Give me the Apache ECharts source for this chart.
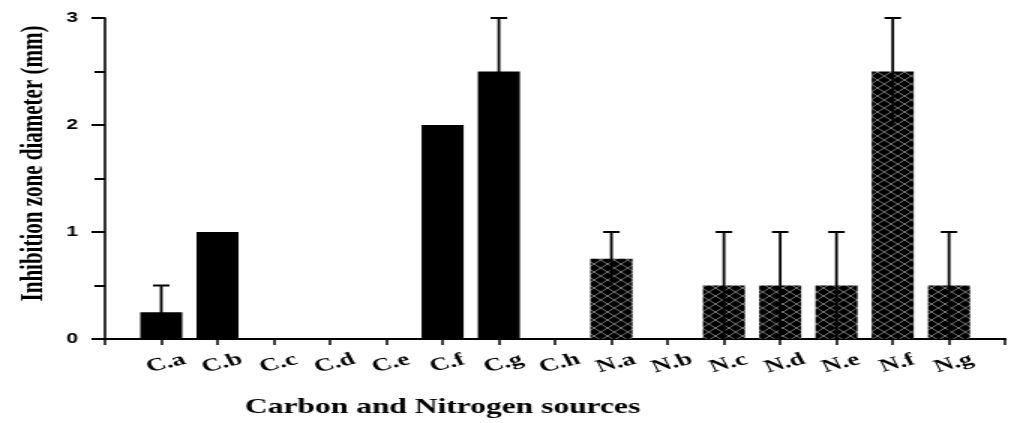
<!DOCTYPE html>
<html>
<head>
<meta charset="utf-8">
<script src="https://cdn.jsdelivr.net/npm/echarts@6/dist/echarts.min.js"></script>
<style>
  html, body { margin: 0; padding: 0; background: #fff; overflow: hidden; }
  /* the figure is laid out narrow and stretched horizontally */
  #chart { width: 673.33px; height: 423px; transform: scaleX(1.5); transform-origin: 0 0; }
</style>
</head>
<body>
<div id="chart"></div>
<script>
// Inhibition zone diameter (mm), mean and SD per source
const carbonSources = ['C.a', 'C.b', 'C.c', 'C.d', 'C.e', 'C.f', 'C.g', 'C.h'];
const carbonZone    = [0.25, 1, 0, 0, 0, 2, 2.5, 0];
const carbonSD      = [0.25, 0, 0, 0, 0, 0, 0.5, 0];

const nitrogenSources = ['N.a', 'N.b', 'N.c', 'N.d', 'N.e', 'N.f', 'N.g'];
const nitrogenZone    = [0.75, 0, 0.5, 0.5, 0.5, 2.5, 0.5];
const nitrogenSD      = [0.25, 0, 0.5, 0.5, 0.5, 0.5, 0.5];

const yTickValues = [0, 1, 2, 3];

// black fill with a white diamond lattice for the nitrogen bars
function crossHatch(w, h) {
  const c = document.createElement('canvas');
  c.width = w; c.height = h;
  const g = c.getContext('2d');
  g.fillStyle = '#000';
  g.fillRect(0, 0, w, h);
  g.strokeStyle = 'rgba(255,255,255,0.6)';
  g.lineWidth = 0.8;
  for (const dx of [-w, 0, w]) {
    g.beginPath(); g.moveTo(dx, 0); g.lineTo(dx + w, h); g.stroke();
    g.beginPath(); g.moveTo(dx + w, 0); g.lineTo(dx, h); g.stroke();
  }
  return c;
}

const allSources = [''].concat(carbonSources, nitrogenSources, ['']);

function barData(cats, vals) {
  return cats.map((c, i) => [c, vals[i]]);
}
function errorData(cats, vals, sds) {
  const out = [];
  cats.forEach((c, i) => {
    if (sds[i] > 0) out.push([c, vals[i] - sds[i], vals[i] + sds[i]]);
  });
  return out;
}

const serif = '"Liberation Serif", "Times New Roman", serif';
const sans = '"Liberation Sans", Arial, sans-serif';

const chart = echarts.init(document.getElementById('chart'));
chart.setOption({
  animation: false,
  backgroundColor: '#fff',
  grid: { left: 70, top: 18, width: 608, height: 321 },
  xAxis: {
    type: 'category',
    data: allSources,
    boundaryGap: false,
    name: 'Carbon and Nitrogen sources',
    nameLocation: 'middle',
    nameGap: 58,
    nameTextStyle: {
      fontFamily: serif, fontWeight: 'bold', fontSize: 21, color: '#000',
      padding: [0, 150, 0, 0]
    },
    axisLine: { lineStyle: { color: '#000', width: 2 } },
    axisTick: { show: true, interval: 0, length: 6, lineStyle: { color: '#000', width: 1.5 } },
    axisLabel: {
      interval: 0, rotate: 20, align: 'center', verticalAlign: 'top', margin: 16,
      fontFamily: serif, fontWeight: 'bold', fontSize: 18, color: '#000'
    },
    splitLine: { show: false }
  },
  yAxis: {
    type: 'value',
    min: yTickValues[0],
    max: yTickValues[yTickValues.length - 1],
    interval: 1,
    name: 'Inhibition zone diameter (mm)',
    nameLocation: 'middle',
    nameRotate: 90,
    nameGap: 36,
    nameTextStyle: {
      fontFamily: serif, fontWeight: 'bold', fontSize: 21, color: '#000',
      padding: [0, 0, 0, 30]
    },
    axisLine: { show: true, lineStyle: { color: '#000', width: 1.6 } },
    axisTick: { show: true, length: 9, lineStyle: { color: '#000', width: 2 } },
    minorTick: { show: true, splitNumber: 2, length: 7, lineStyle: { color: '#000', width: 2 } },
    axisLabel: { margin: 18, fontFamily: sans, fontWeight: 'bold', fontSize: 14, color: '#000' },
    splitLine: { show: false },
    minorSplitLine: { show: false }
  },
  series: [
    {
      name: 'Carbon',
      type: 'bar',
      barWidth: 28,
      barGap: '-100%',
      itemStyle: { color: '#000' },
      data: barData(carbonSources, carbonZone)
    },
    {
      name: 'Nitrogen',
      type: 'bar',
      barWidth: 28,
      barGap: '-100%',
      itemStyle: { color: { image: crossHatch(9, 8), repeat: 'repeat' } },
      data: barData(nitrogenSources, nitrogenZone)
    },
    {
      name: 'SD',
      type: 'custom',
      z: 5,
      encode: { x: 0, y: [1, 2] },
      data: errorData(carbonSources, carbonZone, carbonSD)
        .concat(errorData(nitrogenSources, nitrogenZone, nitrogenSD)),
      renderItem: function (params, api) {
        const x = api.value(0);
        const lo = api.coord([x, api.value(1)]);
        const hi = api.coord([x, api.value(2)]);
        const hw = 5.5;
        return {
          type: 'group',
          children: [
            { type: 'line', shape: { x1: lo[0], y1: lo[1], x2: hi[0], y2: hi[1] },
              style: { stroke: '#000', lineWidth: 1.8 } },
            { type: 'line', shape: { x1: hi[0] - hw, y1: hi[1], x2: hi[0] + hw, y2: hi[1] },
              style: { stroke: '#000', lineWidth: 2 } }
          ]
        };
      }
    }
  ]
});
</script>
</body>
</html>
